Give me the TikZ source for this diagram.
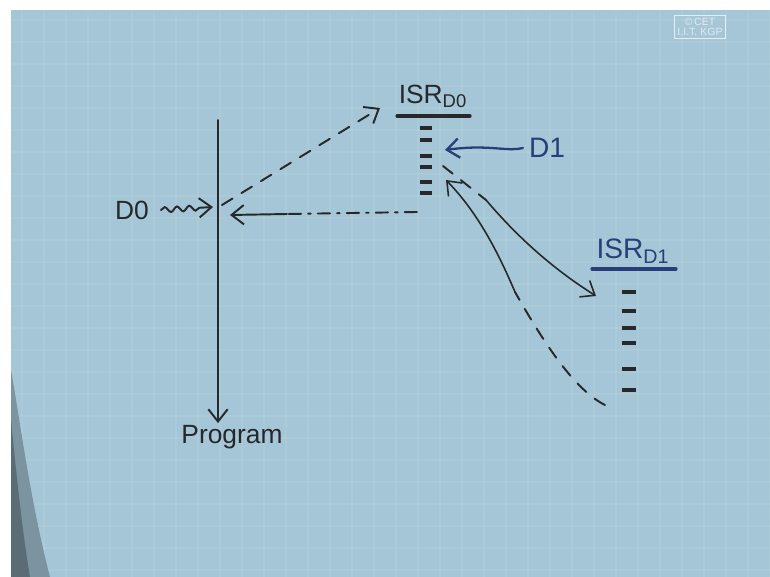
\documentclass[tikz,border=0pt]{standalone}
\usepackage{fontspec}
\setmainfont{Liberation Sans}
\usetikzlibrary{arrows.meta,decorations.pathmorphing}

\definecolor{paper}{RGB}{164,198,214}
\definecolor{ink}{RGB}{38,40,44}
\definecolor{blueink}{RGB}{40,62,120}

\tikzset{
	pen/.style = {draw=ink, line width=1.1pt, line cap=round},
	bluepen/.style = {draw=blueink, line width=1.3pt, line cap=round},
	tipto/.style = {-{Straight Barb[length=7pt,width=11pt]}},
	dashline/.style = {dash pattern=on 7pt off 6pt},
	txt/.style = {text=ink, font=\fontsize{15}{15}\selectfont, inner sep=1pt},
	bluetxt/.style = {text=blueink, font=\fontsize{16}{16}\selectfont, inner sep=1pt},
	tick/.style = {draw=ink, line width=1.8pt}
}

\begin{document}
\begin{tikzpicture}[x=0.02cm, y=-0.02cm]
		% paper, grid and frame
		\useasboundingbox (0,0) rectangle (770,577);
		\fill[white] (0,0) rectangle (770,577);
		\fill[paper] (11,10) rectangle (770,577);
		\foreach \gx in {22,44,...,770}
			\draw[white, opacity=0.07, line width=0.6pt] (\gx,10) -- (\gx,577);
		\foreach \gy in {20,42,...,577}
			\draw[white, opacity=0.07, line width=0.6pt] (11,\gy) -- (770,\gy);
		\fill[black!25!paper] (11,370) .. controls (20,420) and (30,500) .. (50,577) -- (11,577) -- cycle;
		\fill[black!45!paper] (11,420) .. controls (16,470) and (22,530) .. (30,577) -- (11,577) -- cycle;
		\node (stamp) [draw=white!70!paper, text=white!65!paper, font=\fontsize{6}{6}\selectfont, align=center, inner sep=1.5pt] at (700,27) {\copyright\,CET\\I.I.T. KGP};

		% main program line
		\coordinate (top) at (218,120);
		\node (prog) [txt] at (232,437) {Program};
		\draw[pen, tipto] (top) -- (top |- prog.north);

		% interrupt from D0
		\node (d0) [txt] at (132,210) {D0};
		\coordinate (irq0) at (213,207);
		\draw[pen, tipto, decorate, decoration={snake, amplitude=1.5pt, segment length=7pt, post length=6pt}] (d0.east) ++(10,0) -- (irq0);

		% ISR of D0
		\node (isr0) [txt] at (433,96) {ISR\textsubscript{D0}};
		\coordinate (u0a) at (397,116);
		\coordinate (u0b) at (470,116);
		\draw[pen, line width=1.8pt] (u0a) -- (u0b);
		\foreach \sy in {128,140,156,167,182,193}
			\draw[tick] (420,\sy) -- (432,\sy);
		\coordinate (go0) at (222,205);
		\coordinate (in0) at (380,108);
		\draw[pen, dashline, tipto] (go0) -- (in0);

		% return from ISR of D0
		\coordinate (out0) at (417,212);
		\coordinate (mid0) at (287,214);
		\coordinate (ret0) at (230,215);
		\draw[pen, dash pattern=on 7pt off 4pt on 1.5pt off 4pt] (out0) -- (mid0);
		\draw[pen, tipto] (mid0) -- (ret0);

		% interrupt from D1
		\node (d1) [bluetxt] at (547,148) {D1};
		\coordinate (irq1) at (445,150);
		\draw[bluepen, tipto] (d1.west) ++(-4,0) .. controls (505,152) and (490,144) .. (irq1);

		% ISR of D1
		\node (isr1) [bluetxt] at (633,251) {ISR\textsubscript{D1}};
		\coordinate (u1a) at (592,269);
		\coordinate (u1b) at (676,269);
		\draw[bluepen, line width=1.8pt] (u1a) -- (u1b);
		\foreach \sy in {292,311,328,343,369,390}
			\draw[tick] (622,\sy) -- (636,\sy);

		% nesting: D0 service to D1 service and back
		\coordinate (go1) at (443,166);
		\coordinate (mid1) at (486,200);
		\coordinate (in1) at (596,296);
		\draw[pen, dashline] (go1) -- (mid1);
		\draw[pen, line width=0.9pt, tipto] (mid1) .. controls (520,240) and (555,270) .. (in1);
		\coordinate (out1) at (605,405);
		\coordinate (mid2) at (515,292);
		\coordinate (ret1) at (446,180);
		\draw[pen, dashline] (out1) .. controls (575,390) and (545,345) .. (mid2);
		\draw[pen, line width=0.9pt, tipto] (mid2) .. controls (495,245) and (475,210) .. (ret1);
\end{tikzpicture}
\end{document}
